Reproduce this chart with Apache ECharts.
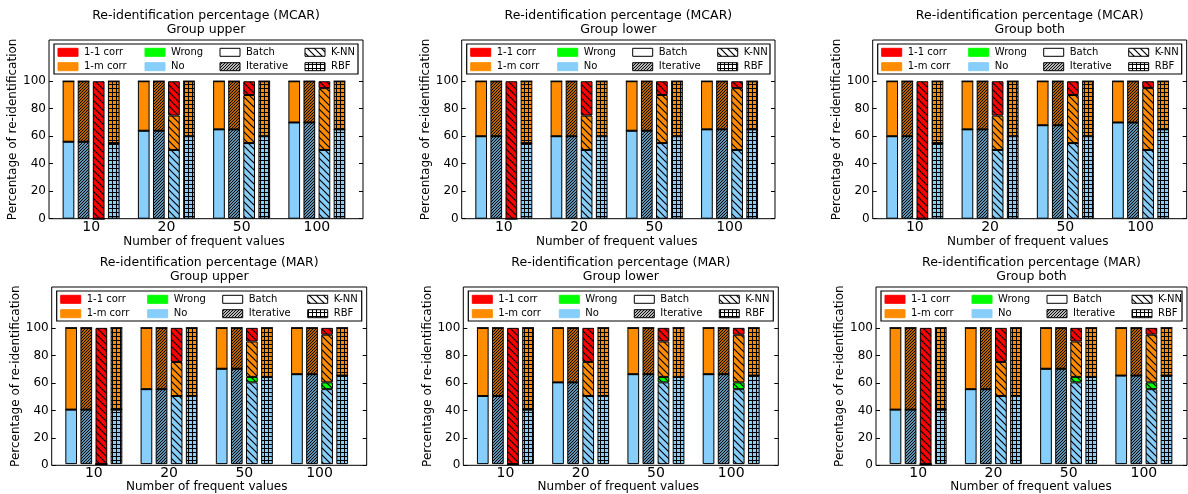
<!DOCTYPE html>
<html>
<head>
<meta charset="utf-8">
<script src="https://cdn.jsdelivr.net/npm/echarts@6/dist/echarts.min.js"></script>
<style>
  html, body { margin: 0; padding: 0; background: #fff; }
  #chart { width: 1188px; height: 494px; }
</style>
</head>
<body>
<div id="chart"></div>
<script>
// categories / labels
const categories = ['10', '20', '50', '100'];
const methods = ['Batch', 'Iterative', 'K-NN', 'RBF'];
const yTicks = [0, 20, 40, 60, 80, 100];

// values: rows = method (Batch, Iterative, K-NN, RBF), cols = category
const mcarUpperNo    = [[56, 64, 65, 70], [56, 64, 65, 70], [0, 50, 55, 50], [55, 60, 60, 65]];
const mcarUpperWrong = [[0, 0, 0, 0], [0, 0, 0, 0], [0, 0, 0, 0], [0, 0, 0, 0]];
const mcarUpperOneM  = [[44, 36, 35, 30], [44, 36, 35, 30], [0, 25, 35, 45], [45, 40, 40, 35]];
const mcarUpperOneOne= [[0, 0, 0, 0], [0, 0, 0, 0], [100, 25, 10, 5], [0, 0, 0, 0]];

const mcarLowerNo    = [[60, 60, 64, 65], [60, 60, 64, 65], [0, 50, 55, 50], [55, 60, 60, 65]];
const mcarLowerWrong = [[0, 0, 0, 0], [0, 0, 0, 0], [0, 0, 0, 0], [0, 0, 0, 0]];
const mcarLowerOneM  = [[40, 40, 36, 35], [40, 40, 36, 35], [0, 25, 35, 45], [45, 40, 40, 35]];
const mcarLowerOneOne= [[0, 0, 0, 0], [0, 0, 0, 0], [100, 25, 10, 5], [0, 0, 0, 0]];

const mcarBothNo     = [[60, 65, 68, 70], [60, 65, 68, 70], [0, 50, 55, 50], [55, 60, 60, 65]];
const mcarBothWrong  = [[0, 0, 0, 0], [0, 0, 0, 0], [0, 0, 0, 0], [0, 0, 0, 0]];
const mcarBothOneM   = [[40, 35, 32, 30], [40, 35, 32, 30], [0, 25, 35, 45], [45, 40, 40, 35]];
const mcarBothOneOne = [[0, 0, 0, 0], [0, 0, 0, 0], [100, 25, 10, 5], [0, 0, 0, 0]];

const marUpperNo     = [[40, 55, 70, 66], [40, 55, 70, 66], [0, 50, 60, 55], [40, 50, 64, 65]];
const marUpperWrong  = [[0, 0, 0, 0], [0, 0, 0, 0], [0, 0, 4, 5], [0, 0, 0, 0]];
const marUpperOneM   = [[60, 45, 30, 34], [60, 45, 30, 34], [0, 25, 26, 35], [60, 50, 36, 35]];
const marUpperOneOne = [[0, 0, 0, 0], [0, 0, 0, 0], [100, 25, 10, 5], [0, 0, 0, 0]];

const marLowerNo     = [[50, 60, 66, 66], [50, 60, 66, 66], [0, 50, 60, 55], [40, 50, 64, 65]];
const marLowerWrong  = [[0, 0, 0, 0], [0, 0, 0, 0], [0, 0, 4, 5], [0, 0, 0, 0]];
const marLowerOneM   = [[50, 40, 34, 34], [50, 40, 34, 34], [0, 25, 26, 35], [60, 50, 36, 35]];
const marLowerOneOne = [[0, 0, 0, 0], [0, 0, 0, 0], [100, 25, 10, 5], [0, 0, 0, 0]];

const marBothNo      = [[40, 55, 70, 65], [40, 55, 70, 65], [0, 50, 60, 55], [40, 50, 64, 65]];
const marBothWrong   = [[0, 0, 0, 0], [0, 0, 0, 0], [0, 0, 4, 5], [0, 0, 0, 0]];
const marBothOneM    = [[60, 45, 30, 35], [60, 45, 30, 35], [0, 25, 26, 35], [60, 50, 36, 35]];
const marBothOneOne  = [[0, 0, 0, 0], [0, 0, 0, 0], [100, 25, 10, 5], [0, 0, 0, 0]];

const FONT = '"DejaVu Sans", sans-serif';
const compNames = ['No', 'Wrong', '1-m corr', '1-1 corr'];   // stacking order, bottom up
const compColors = ['#87cefa', '#00ff00', '#ff8c00', '#ff0000'];
const hatches = [null, 'iter', 'knn', 'rbf'];

// hatch fill as a canvas pattern tile
function hatchFill(color, hatch) {
  if (!hatch) return color;
  const s = hatch === 'knn' ? 7 : (hatch === 'iter' ? 3 : 4);
  const c = document.createElement('canvas');
  c.width = s; c.height = s;
  const g = c.getContext('2d');
  g.fillStyle = color;
  g.fillRect(0, 0, s, s);
  g.strokeStyle = '#000';
  g.lineWidth = hatch === 'knn' ? 1.2 : (hatch === 'iter' ? 1.1 : 1);
  g.beginPath();
  if (hatch === 'iter') {          // "////"
    g.moveTo(-1, s + 1); g.lineTo(s + 1, -1);
    g.moveTo(-1, 1); g.lineTo(1, -1);
    g.moveTo(s - 1, s + 1); g.lineTo(s + 1, s - 1);
  } else if (hatch === 'knn') {    // "\\"
    g.moveTo(-1, -1); g.lineTo(s + 1, s + 1);
    g.moveTo(s - 1, -1); g.lineTo(s + 1, 1);
    g.moveTo(-1, s - 1); g.lineTo(1, s + 1);
  } else {                         // "+"
    g.moveTo(0.5, 0); g.lineTo(0.5, s);
    g.moveTo(0, 0.5); g.lineTo(s, 0.5);
  }
  g.stroke();
  return { image: c, repeat: 'repeat' };
}

const panels = [
  { title: 'Re-identification percentage (MCAR)\nGroup upper', vals: [mcarUpperNo, mcarUpperWrong, mcarUpperOneM, mcarUpperOneOne], l: 49, t: 40, w: 314, h: 178.7 },
  { title: 'Re-identification percentage (MCAR)\nGroup lower', vals: [mcarLowerNo, mcarLowerWrong, mcarLowerOneM, mcarLowerOneOne], l: 461.7, t: 40, w: 313.3, h: 178.7 },
  { title: 'Re-identification percentage (MCAR)\nGroup both', vals: [mcarBothNo, mcarBothWrong, mcarBothOneM, mcarBothOneOne], l: 872.7, t: 40, w: 314, h: 178.7 },
  { title: 'Re-identification percentage (MAR)\nGroup upper', vals: [marUpperNo, marUpperWrong, marUpperOneM, marUpperOneOne], l: 51.7, t: 287, w: 315, h: 178.3 },
  { title: 'Re-identification percentage (MAR)\nGroup lower', vals: [marLowerNo, marLowerWrong, marLowerOneM, marLowerOneOne], l: 463.3, t: 287, w: 315, h: 178.3 },
  { title: 'Re-identification percentage (MAR)\nGroup both', vals: [marBothNo, marBothWrong, marBothOneM, marBothOneOne], l: 876, t: 287, w: 311, h: 178.3 }
];

const grids = [], xAxes = [], yAxes = [], series = [], titles = [], gfx = [];

panels.forEach(function (p, i) {
  const gFrame = grids.length;
  grids.push({ left: p.l, top: p.t, width: p.w, height: p.h, show: true,
    borderColor: '#000', borderWidth: 1, backgroundColor: 'transparent' });
  const gData = grids.length;
  grids.push({ left: p.l + 4.5, top: p.t, width: 301, height: p.h });

  // frame axes
  xAxes.push({ gridIndex: gFrame, type: 'value', min: 0, max: 1, show: false });
  yAxes.push({
    gridIndex: gFrame, type: 'value', min: 0, max: 130, interval: 20, position: 'left',
    name: 'Percentage of re-identification', nameLocation: 'middle', nameGap: 26,
    nameTextStyle: { fontSize: 12, fontFamily: FONT, color: '#000' },
    axisLine: { show: false }, splitLine: { show: false },
    axisTick: { inside: true, length: 4, customValues: yTicks, lineStyle: { color: '#000' } },
    axisLabel: { customValues: yTicks, margin: 3, fontSize: 12, fontFamily: FONT, color: '#000' }
  });
  yAxes.push({
    gridIndex: gFrame, type: 'value', min: 0, max: 130, interval: 20, position: 'right',
    axisLine: { show: false }, splitLine: { show: false },
    axisTick: { inside: true, length: 4, customValues: yTicks, lineStyle: { color: '#000' } },
    axisLabel: { show: false }
  });

  // data axes
  const xBottom = xAxes.length;
  xAxes.push({
    gridIndex: gData, type: 'category', data: categories, position: 'bottom',
    name: 'Number of frequent values', nameLocation: 'middle', nameGap: 15,
    nameTextStyle: { fontSize: 12, fontFamily: FONT, color: '#000' },
    axisLine: { show: false },
    axisTick: { inside: true, length: 4, alignWithLabel: true, lineStyle: { color: '#000' } },
    axisLabel: { margin: 2, fontSize: 14, fontFamily: FONT, color: '#000' }
  });
  xAxes.push({
    gridIndex: gData, type: 'category', data: categories, position: 'top',
    axisLine: { show: false },
    axisTick: { inside: true, length: 4, alignWithLabel: true, lineStyle: { color: '#000' } },
    axisLabel: { show: false }
  });
  const yData = yAxes.length;
  yAxes.push({ gridIndex: gData, type: 'value', min: 0, max: 130, show: false });

  methods.forEach(function (m, mi) {
    compNames.forEach(function (cn, ci) {
      series.push({
        type: 'bar', name: cn + ' ' + m, xAxisIndex: xBottom, yAxisIndex: yData,
        stack: 'p' + i + '_' + m, barWidth: 11.7, barGap: '29%',
        data: p.vals[ci][mi],
        itemStyle: { color: hatchFill(compColors[ci], hatches[mi]), borderColor: '#000', borderWidth: 1 },
        silent: true
      });
    });
  });

  titles.push({
    text: p.title, left: p.l + p.w / 2, top: p.t - 31, textAlign: 'center', padding: 0,
    textStyle: { fontSize: 12.5, fontWeight: 'normal', fontFamily: FONT, color: '#000', lineHeight: 14 }
  });

  // legend box
  gfx.push({ type: 'rect', z: 100, shape: { x: p.l + 5, y: p.t + 4, width: p.w - 10, height: 30 },
    style: { fill: '#fff', stroke: '#000', lineWidth: 1.2 } });
  const items = [
    ['1-1 corr', compColors[3], false], ['Wrong', compColors[1], false],
    ['Batch', '#fff', true], ['K-NN', hatchFill('#fff', 'knn'), true],
    ['1-m corr', compColors[2], false], ['No', compColors[0], false],
    ['Iterative', hatchFill('#fff', 'iter'), true], ['RBF', hatchFill('#fff', 'rbf'), true]
  ];
  const cols = [9, 96, 171, 256];
  const rows = [12.3, 26.7];
  items.forEach(function (it, k) {
    const x = p.l + cols[k % 4];
    const y = p.t + rows[Math.floor(k / 4)];
    gfx.push({ type: 'rect', z: 101, shape: { x: x, y: y - 4, width: 20, height: 8 },
      style: { fill: it[1], stroke: it[2] ? '#000' : it[1], lineWidth: 1 } });
    gfx.push({ type: 'text', z: 101, x: x + 26, y: y,
      style: { text: it[0], fill: '#000', fontSize: 10, fontFamily: FONT, verticalAlign: 'middle' } });
  });
});

const chart = echarts.init(document.getElementById('chart'));
chart.setOption({
  animation: false,
  backgroundColor: '#fff',
  title: titles,
  grid: grids,
  xAxis: xAxes,
  yAxis: yAxes,
  series: series,
  graphic: { elements: gfx }
});
</script>
</body>
</html>
